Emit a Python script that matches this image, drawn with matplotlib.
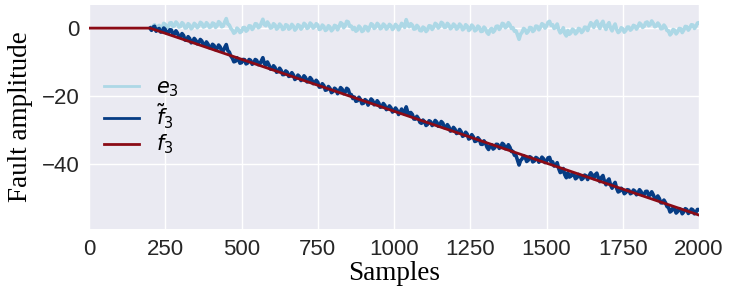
import numpy as np
import matplotlib
matplotlib.use("Agg")
import matplotlib.pyplot as plt

# ---- data ----
fault_start = 200          # sample where the fault begins
fault_end = 2000
fault_end_value = -55.0    # true fault amplitude at the last sample
n_samples = 2000
e3_first_sample = 200
e3_step = 5

# estimation error e3 = f~3 - f3, every 5 samples from 200 to 2000
e3_values = [
    0.0, -0.5, 0.6, 1.0, -0.3, 0.4, 0.8, -0.1, 0.2, 1.4, 1.1, 0.2, 0.4, 1.5, 1.6, 0.5, 0.7, 1.8, 1.3, 0.3,
    0.5, 1.6, 1.2, 0.0, 0.1, 1.3, 0.9, -0.2, 0.3, 1.4, 1.0, 0.1, 0.6, 1.7, 1.4, 0.3, 0.5, 1.6, 1.1, 0.2,
    0.4, 1.5, 1.3, 0.2, 0.7, 1.9, 1.5, 0.4, 0.6, 1.8, 2.8, 1.2, 0.9, -0.1, -0.6, -1.5, -1.2, 0.0, -0.4, -1.3,
    -1.0, 0.1, 0.2, -0.9, -0.5, 0.7, 0.6, -0.4, 0.1, 1.3, 1.2, 0.1, 0.4, 1.5, 2.6, 1.0, 0.7, 1.8, 1.1, 0.0,
    0.2, 1.3, 0.9, -0.3, 0.1, 1.2, 0.7, -0.4, -0.2, 1.0, 0.8, -0.3, 0.0, 1.1, 0.6, -0.6, -0.1, 1.0, 0.7, -0.3,
    0.3, 1.4, 1.0, -0.1, 0.2, 1.5, 1.1, 0.0, 0.4, 1.3, 0.9, -0.4, -0.2, 0.9, 0.5, -0.7, -0.4, 0.7, 0.3, -0.8,
    -0.3, 0.8, 0.6, -0.5, 0.4, 1.6, 1.3, 0.1, 0.7, 2.0, 1.8, 0.5, 0.6, -0.4, 0.2, -0.9, -0.6, 0.6, 0.1, -1.0,
    -0.7, 0.5, 0.3, -0.8, 0.2, 1.3, 1.0, -0.1, 0.3, 1.4, 0.9, -0.2, 0.1, 1.2, 0.8, -0.3, 0.2, 1.1, 0.7, -0.4,
    0.1, 1.1, 0.6, -0.5, 0.3, 1.4, 1.0, 0.2, 2.5, 1.1, 0.4, 1.3, 0.9, -0.3, -0.2, 0.8, 0.3, -0.7, -0.8, 0.3,
    0.0, -1.0, -0.5, 0.7, 0.6, -0.4, 0.2, 1.4, 1.1, 0.0, 0.5, 1.7, 1.4, 0.2, 0.3, 1.4, 0.9, -0.2, 0.2, 1.2,
    0.8, -0.3, 0.1, 1.2, 0.7, -0.5, -0.1, 1.0, 0.6, -0.7, -0.3, 0.9, 0.4, -0.8, -0.5, 0.6, 0.2, -1.0, -0.9, 0.3,
    -0.2, -1.3, -1.8, -0.5, -0.1, -1.2, -0.7, 0.5, 0.6, -0.4, 0.2, 1.4, 1.2, 0.1, 0.5, 1.6, 1.0, -0.1, 0.1, -0.9,
    -0.8, -2.0, -3.3, -1.8, -1.2, -0.1, -0.4, -1.5, -1.0, 0.2, 0.1, -1.0, -0.6, 0.6, 0.5, -0.5, 0.2, 1.3, 1.0, 0.0,
    0.6, 1.7, 2.0, 0.8, 1.0, -0.1, 0.3, 1.2, -0.4, -1.4, -1.0, 0.1, -1.6, -2.3, -0.7, -1.8, -1.4, -0.3, -0.6, -1.7,
    -1.2, -0.1, -0.3, -1.3, -0.8, 0.3, 0.2, -0.7, 0.6, 1.6, 1.1, 0.2, 1.5, 2.1, 0.8, -0.1, 1.3, 2.0, 0.5, -0.4,
    0.9, 1.6, 0.0, -0.8, 0.4, 1.2, -0.4, -1.3, -0.9, 0.1, -0.2, -1.2, -0.7, 0.3, 0.3, -0.6, -0.2, 0.8, 0.6, -0.3,
    0.4, 1.5, 1.1, 0.2, 0.5, 1.6, 1.8, 0.7, 1.0, 2.1, 1.4, 0.4, 0.6, 1.5, 0.9, -0.2, -0.1, 0.9, 0.3, -0.7,
    -0.8, -2.0, -1.5, -0.4, -0.6, -1.7, -1.1, -0.1, -0.2, -1.3, -0.6, 0.5, 0.4, -0.6, 0.0, 1.0, 0.9, -0.1, 0.5, 1.5,
    1.6,
]

# true fault f3: zero until fault_start, then a ramp
f3_samples = [0, fault_start, fault_end]
f3_values = [0.0, 0.0, fault_end_value]

x_ticks = [0, 250, 500, 750, 1000, 1250, 1500, 1750, 2000]
y_ticks = [0, -20, -40]
labels = [r"$e_3$", r"$\tilde{f}_3$", r"$f_3$"]

# ---- derived series ----
e3 = np.array(e3_values)
e3_x = e3_first_sample + e3_step * np.arange(len(e3))
f3_on_grid = np.interp(e3_x, f3_samples, f3_values)
f3_tilde = f3_on_grid + e3

# ---- plotting ----
fig = plt.figure(figsize=(7.31, 2.89), dpi=100)
ax = fig.add_axes([89/731, 1 - 229/289, (699-89)/731, (229-5)/289])
ax.set_facecolor("#EAEAF2")
for s in ax.spines.values():
    s.set_visible(False)
ax.grid(True, color="white", linewidth=1.0)
ax.set_axisbelow(True)

ax.plot(e3_x, e3, color="#ADD8E6", linewidth=2.6, label=labels[0],
        solid_joinstyle="round")
ax.plot(e3_x, f3_tilde, color="#063C84", linewidth=2.6, label=labels[1],
        solid_joinstyle="round")
ax.plot(f3_samples, f3_values, color="#8B0B16", linewidth=2.0, label=labels[2])

ax.set_xlim(0, n_samples)
ax.set_ylim(-59.1, 6.8)
ax.set_xticks(x_ticks)
ax.set_yticks(y_ticks)
ax.tick_params(axis="both", length=0, labelsize=16, labelcolor="#262626", pad=7)
for lab in ax.get_xticklabels() + ax.get_yticklabels():
    lab.set_fontfamily("Liberation Sans")

ax.set_xlabel("Samples", fontfamily="Liberation Serif", fontsize=19.5, labelpad=1)
ax.set_ylabel("Fault amplitude", fontfamily="Liberation Serif", fontsize=19.5, labelpad=6)

leg = ax.legend(loc="center left", frameon=False, fontsize=15,
                handlelength=1.7, borderaxespad=0.3, labelspacing=0.1)
for h in leg.get_lines():
    h.set_linewidth(2.0)

fig.savefig("out.png", dpi=100)
